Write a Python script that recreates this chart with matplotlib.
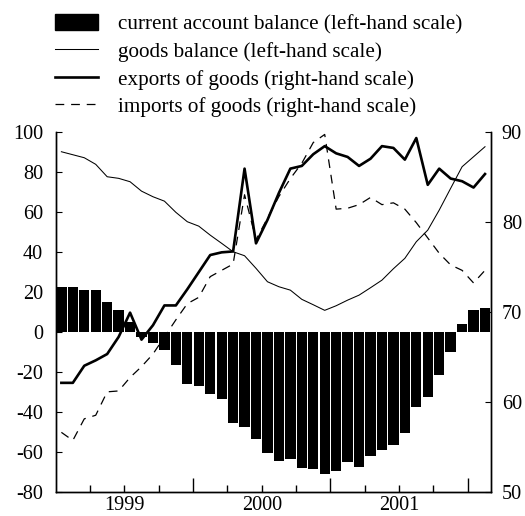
"""
    current account, goods balance and trade in goods, 1999-2001
"""

import numpy as np
import matplotlib
matplotlib.use("Agg")
import matplotlib.pyplot as plt
from matplotlib.patches import Patch
from matplotlib.lines import Line2D

plt.rcParams['font.family'] = ['Liberation Serif', 'DejaVu Serif']
plt.rcParams['axes.unicode_minus'] = False

# monthly values, Jan 1999 - Feb 2002
current_account = [22.5, 22.2, 20.8, 20.8, 15.0, 10.8, 5.0, -2.5, -5.5, -9.0,
                   -16.7, -26.3, -27.0, -31.2, -33.8, -45.8, -47.5, -53.8, -60.8, -64.7,
                   -63.8, -68.3, -68.7, -71.2, -69.7, -65.3, -67.5, -62.2, -59.2, -56.7,
                   -50.8, -37.5, -32.5, -21.7, -10.0, 3.8, 10.8, 12.0]
goods_balance = [90.0, 88.5, 87.0, 83.7, 77.5, 76.7, 75.0, 70.3, 67.5, 65.3,
                 59.7, 55.0, 52.8, 48.3, 44.2, 40.0, 38.0, 31.7, 25.0, 22.5,
                 20.8, 16.2, 13.5, 10.7, 13.0, 15.8, 18.3, 22.0, 25.8, 31.5,
                 36.7, 45.0, 50.8, 60.8, 71.7, 82.5, 87.5, 92.5]
exports = [62.1, 62.1, 64.0, 64.6, 65.3, 67.2, 69.9, 66.9, 68.5, 70.7,
           70.7, 72.5, 74.4, 76.3, 76.6, 76.7, 85.9, 77.6, 80.2, 83.2,
           85.9, 86.2, 87.5, 88.4, 87.6, 87.2, 86.2, 87.0, 88.4, 88.2,
           86.9, 89.3, 84.1, 85.9, 84.8, 84.5, 83.8, 85.3]
imports = [56.6, 55.7, 58.1, 58.5, 61.1, 61.2, 62.7, 63.9, 65.3, 67.2,
           69.1, 70.9, 71.6, 73.9, 74.6, 75.3, 83.0, 78.0, 80.4, 82.8,
           84.8, 86.5, 88.8, 89.7, 81.4, 81.5, 81.9, 82.7, 81.9, 82.1,
           81.4, 79.9, 78.2, 76.5, 75.2, 74.6, 73.2, 74.6]
years = ['1999', '2000', '2001']
labels = ['current account balance (left-hand scale)',
          'goods balance (left-hand scale)',
          'exports of goods (right-hand scale)',
          'imports of goods (right-hand scale)']

months = np.arange(len(current_account))
fs = 14.6       # tick labels
fs_leg = 15.2   # legend
dash = (0, (7, 5.5))

fig = plt.figure(figsize=(5.25, 5.16), dpi=100)
ax = fig.add_axes([0.106, 0.047, 0.8287, 0.6977])
ax2 = ax.twinx()

ax.bar(months, current_account, width=0.9, color='black', zorder=1)
ax.plot(months, goods_balance, color='black', lw=0.75, zorder=2)
ax2.plot(months, exports, color='black', lw=1.9)
ax2.plot(months, imports, color='black', lw=0.9, linestyle=dash)

ax.set_xlim(-0.5, len(months) - 0.5)
ax.set_ylim(-80, 100)
ax2.set_ylim(50, 90)
ax.set_yticks(np.arange(-80, 101, 20))
ax2.set_yticks(np.arange(50, 91, 10))

# year boundaries (long ticks) and quarters (short ticks)
ax.set_xticks([11.5, 23.5, 35.5])
ax.set_xticklabels([])
ax.set_xticks([2.5, 5.5, 8.5, 14.5, 17.5, 20.5, 26.5, 29.5, 32.5], minor=True)
ax.tick_params(axis='x', which='major', direction='in', length=10, width=1)
ax.tick_params(axis='x', which='minor', direction='in', length=5, width=1)
for i, yr in enumerate(years):
    ax.text(5.5 + 12 * i, -0.05, yr, transform=ax.get_xaxis_transform(),
            ha='center', va='baseline', fontsize=fs)

ax.tick_params(axis='y', direction='in', length=4, labelsize=fs, pad=9)
ax2.tick_params(axis='y', direction='in', length=4, labelsize=fs, pad=8)

for a in (ax, ax2):
    a.spines['top'].set_visible(False)
    for s in ('left', 'right', 'bottom'):
        a.spines[s].set_linewidth(1)

handles = [Patch(facecolor='black', edgecolor='black'),
           Line2D([], [], color='black', lw=0.75),
           Line2D([], [], color='black', lw=1.9),
           Line2D([], [], color='black', lw=0.9, linestyle=dash)]
fig.legend(handles, labels, loc='upper left', bbox_to_anchor=(0.105, 0.973),
           frameon=False, fontsize=fs_leg, borderpad=0, borderaxespad=0,
           handlelength=2.05, handleheight=0.8, handletextpad=0.95,
           labelspacing=0.34)

fig.savefig('out.png', dpi=100)
